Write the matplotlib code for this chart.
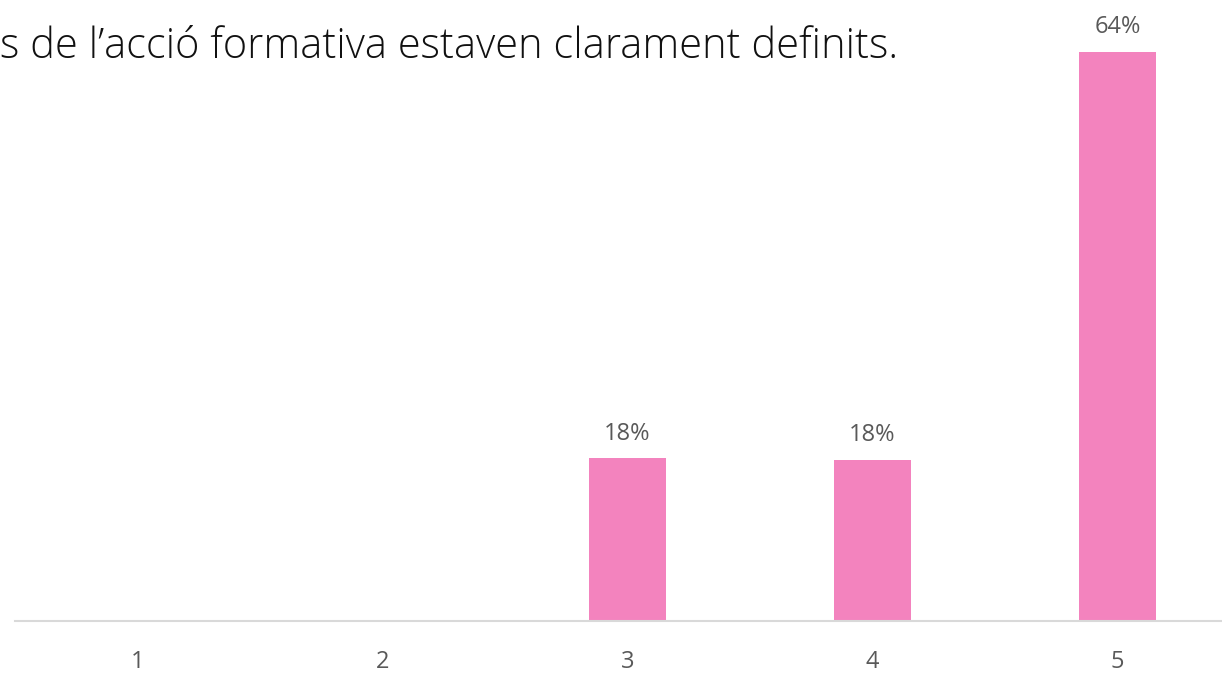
import matplotlib
matplotlib.use("Agg")
import matplotlib.pyplot as plt

categories = ["1", "2", "3", "4", "5"]
values = [0.0, 0.0, 0.182, 0.180, 0.636]
labels = ["", "", "18%", "18%", "64%"]
title = "s de l\u2019acció formativa estaven clarament definits."

W, H = 1222, 677
fig = plt.figure(figsize=(W / 100, H / 100), dpi=100)
font = "Open Sans"

ax = fig.add_axes([15 / W, (H - 621) / H, 1225 / W, 621 / H])
x = list(range(len(categories)))
ax.bar(x, values, width=77 / 245, color="#F383BE", zorder=2)
ax.set_xlim(-0.5, 4.5)
ax.set_ylim(0, 621 / (569 / 0.636))
for s in ["top", "right", "left"]:
    ax.spines[s].set_visible(False)
ax.spines["bottom"].set_color("#D9D9D9")
ax.spines["bottom"].set_linewidth(1.5)
ax.set_yticks([])
ax.set_xticks(x)
ax.set_xticklabels(categories, fontsize=17, color="#595959", family=font)
ax.tick_params(axis="x", length=0, pad=21)
for xi, v, lab in zip(x, values, labels):
    if lab:
        ax.annotate(lab, (xi, v), xytext=(0, 9), textcoords="offset points",
                    ha="center", va="bottom", fontsize=17, color="#595959",
                    family=font)

t = fig.text(0, 1 - 58 / H, title, ha="left", va="baseline", fontsize=26,
             color="#111111", family=font, fontweight="light")
fig.canvas.draw()
w = t.get_window_extent().width
t.set_fontsize(26 * 900 / w)

fig.savefig("out.png", dpi=100)
